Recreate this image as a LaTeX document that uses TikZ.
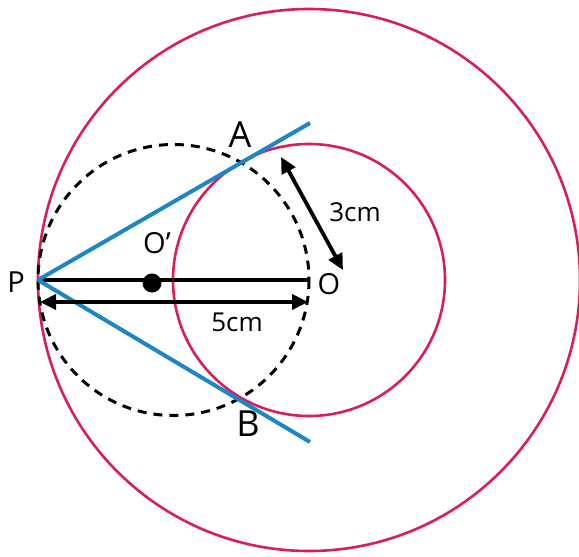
\documentclass[tikz,border=0pt]{standalone}
\usepackage{fontspec}
\setmainfont{Open Sans}
\usepackage{xcolor}
\usepackage{tikz}
\usetikzlibrary{arrows.meta}
\definecolor{crimson}{RGB}{218,30,88}
\definecolor{skyblue}{RGB}{28,134,200}

\begin{document}
\begin{tikzpicture}[
    x=0.5pt, y=-0.5pt,
    circ/.style={draw=crimson, line width=1.3pt},
    guide/.style={draw, dashed, dash pattern=on 4.5pt off 3.5pt, line width=1.5pt},
    tangent/.style={draw=skyblue, line width=2pt},
    seg/.style={draw, line width=1.9pt},
    arrow/.style={{Triangle[length=8pt,width=7.5pt]}-{Triangle[length=8pt,width=7.5pt]}, line width=1.9pt},
    big/.style={font=\fontsize{18}{18}\selectfont},
    mid/.style={font=\fontsize{14.5}{15}\selectfont},
    small/.style={font=\fontsize{13}{14}\selectfont}
]

\useasboundingbox (0,0) rectangle (579,557);

% Points
\coordinate (P) at (38,280);
\coordinate (O) at (309,280);
\coordinate (Oc) at (173.5,280);
\coordinate (Oprime) at (152,283);
\coordinate (Aend) at (310,123);
\coordinate (Bend) at (310,442);

% Circles
\draw[circ] (O) circle (271);
\draw[circ] (O) circle (136);
\draw[guide] (Oc) circle (135.5);

% PO and centre of the dashed circle
\draw[seg] (P) -- (O);
\fill (Oprime) circle (9.5);

% Tangents
\draw[tangent] (P) -- (Aend);
\draw[tangent] (P) -- (Bend);

% Measures
\coordinate (r1) at (281,157);
\coordinate (r2) at (343,270);
\draw[arrow] (r1) -- (r2);
\coordinate (d1) at (40,302);
\coordinate (d2) at (308,302);
\draw[arrow] (d1) -- (d2);

% Labels
\node[big] (lA) at (240,135) {A};
\node[big] (lB) at (248,424) {B};
\node[mid] (lP) at (16,282) {P};
\node[mid] (lO) at (329,284) {O};
\node[mid] (lOp) at (157,243) {O{\char"0027}};
\node[small] (l3) at (355,212) {3cm};
\node[small] (l5) at (237,322) {5cm};

\end{tikzpicture}
\end{document}
